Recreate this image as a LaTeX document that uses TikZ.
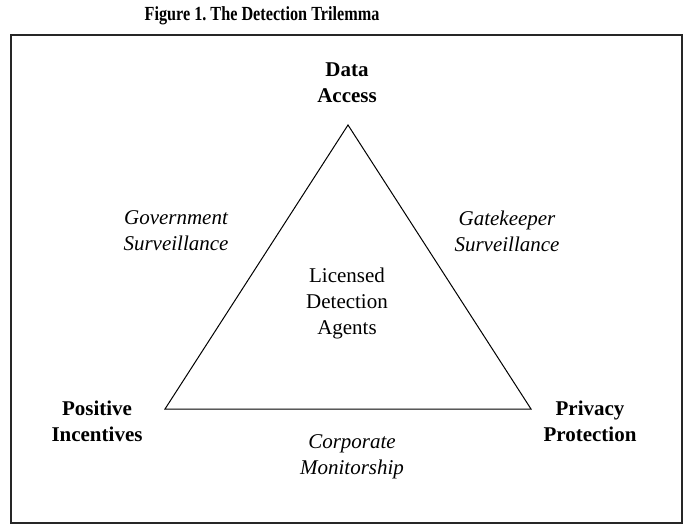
\documentclass[tikz,border=0pt]{standalone}
\usepackage{fontspec}
\setmainfont{Liberation Serif}
\frenchspacing
\begin{document}
\begin{tikzpicture}[x=1pt,y=-1pt,
  lbl/.style={align=center,inner sep=0pt,font=\fontsize{21}{26}\selectfont},
  corner/.style={lbl,font=\fontsize{21}{26}\selectfont\bfseries},
  side/.style={lbl,font=\fontsize{21}{26}\selectfont\itshape},
  edge/.style={draw=black,line width=1pt,line join=miter}]
\useasboundingbox (0,0) rectangle (693,529);
\node[font=\fontsize{20}{24}\selectfont\bfseries,inner sep=0pt] (title) at (262,16) {\scalebox{0.81}[1]{Figure 1. The Detection Trilemma}};
\node[draw=black!85,line width=1.6pt,minimum width=671pt,minimum height=488pt,inner sep=0pt] (frame) at (346.5,279) {};
\coordinate (A) at (348,125);
\coordinate (B) at (165,409);
\coordinate (C) at (531,409);
\draw[edge] (A) -- (B) -- (C) -- cycle;
\node[corner] (data) at (347,83) {Data\\Access};
\node[corner] (pos) at (97,421) {Positive\\Incentives};
\node[corner] (priv) at (590,421) {Privacy\\Protection};
\node[side] (gov) at (176,231) {Government\\Surveillance};
\node[side] (gate) at (507,231) {Gatekeeper\\Surveillance};
\node[lbl] (lic) at (347,303) {Licensed\\Detection\\Agents};
\node[side] (corp) at (352,457) {Corporate\\Monitorship};
\end{tikzpicture}
\end{document}
